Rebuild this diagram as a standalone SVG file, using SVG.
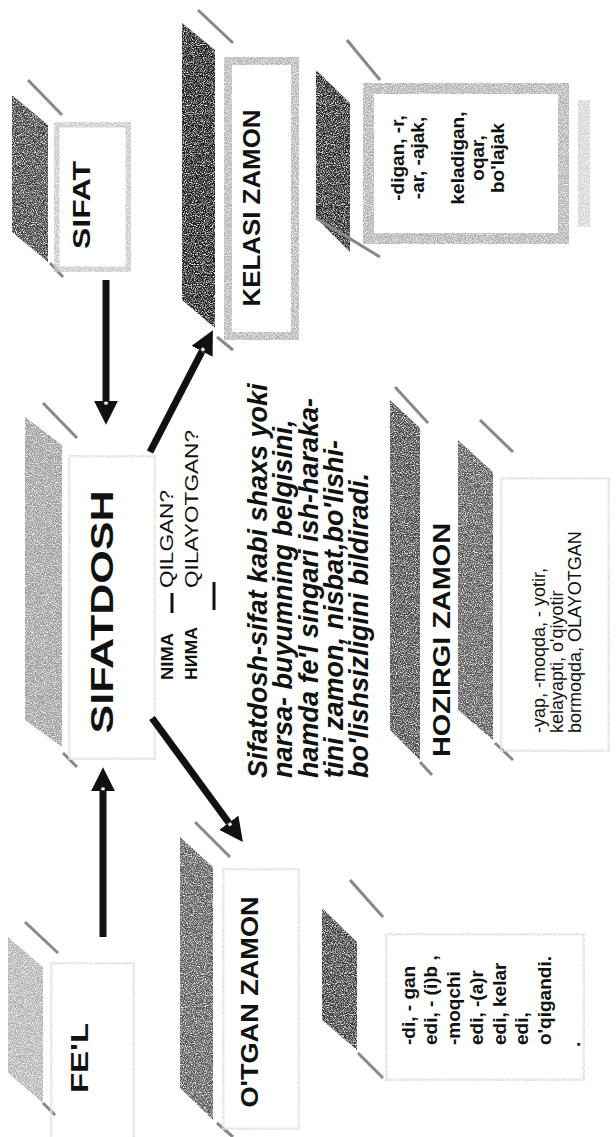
<svg xmlns="http://www.w3.org/2000/svg" width="616" height="1137" viewBox="0 0 616 1137">
<defs>
<filter id="grain" x="0" y="0" width="1" height="1">
<feTurbulence type="fractalNoise" baseFrequency="0.9" numOctaves="2" seed="7" result="n"/>
<feColorMatrix in="n" type="matrix" values="0 0 0 0 0 0 0 0 0 0 0 0 0 0 0 2.6 0 0 0 -0.55" result="m"/>
<feComposite in="SourceGraphic" in2="m" operator="in"/>
</filter>
<marker id="ah" viewBox="0 0 10 10" refX="0" refY="5" markerWidth="3.4" markerHeight="3.4" orient="auto" markerUnits="strokeWidth">
<path d="M0,0 L10,5 L0,10 z" fill="#111"/>
<rect x="0.3" y="4.3" width="1.2" height="1.4" fill="#fff"/>
</marker>
</defs>
<style>
.t{font-family:"Liberation Sans",Arial,sans-serif;font-weight:bold;fill:#111}
.title{font-size:23px}
.it{font-style:italic;font-size:27px}
.c{font-size:19px}
.r{font-weight:normal}
.side{filter:url(#grain)}
.bev{fill:none;stroke:#888;stroke-width:3}
.frame{fill:none;filter:url(#grain)}
.faint{fill:none;stroke:#e3e3e3;stroke-width:5;filter:url(#grain)}
.conn line{stroke:#111;stroke-width:7;marker-end:url(#ah)}
</style>
<rect width="616" height="1137" fill="#fff"/>

<g id="n-sifat">
<line class="bev" x1="28" y1="80" x2="62" y2="115"/>
<polygon class="side" points="12,95 48,125 48,262 12,232" fill="#3a3a3a"/>
<line class="bev" x1="50" y1="263" x2="63" y2="277" stroke="#555"/>
<rect class="frame" x="54" y="122" width="77" height="150" stroke="#c8c8c8" stroke-width="11"/>
<text class="t" font-size="24" transform="translate(90,205) rotate(-90)" text-anchor="middle" textLength="88" lengthAdjust="spacingAndGlyphs">SIFAT</text>
</g>

<g id="n-kelasi">
<line class="bev" x1="198" y1="10" x2="233" y2="43"/>
<polygon class="side" points="182,23 215,50 215,328 182,300" fill="#151515"/>
<line class="bev" x1="217" y1="337" x2="233" y2="350" stroke="#555"/>
<rect class="frame" x="224" y="57" width="75" height="283" stroke="#b4b4b4" stroke-width="16"/>
<text class="t title" transform="translate(260,208) rotate(-90)" text-anchor="middle" textLength="197" lengthAdjust="spacingAndGlyphs">KELASI ZAMON</text>
</g>

<g id="n-kelasi-content">
<line class="bev" x1="347" y1="40" x2="380" y2="80" stroke="#222" stroke-width="4"/>
<polygon class="side" points="316,70 350,103 350,252 316,218" fill="#222"/>
<rect class="frame" x="363" y="83" width="206" height="161" stroke="#b0b0b0" stroke-width="22"/>
<rect class="side" x="578" y="100" width="12" height="127" fill="#d4d4d4"/>
<line class="bev" x1="316" y1="218" x2="380" y2="257" stroke="#222" stroke-width="5"/>
<g class="t c" text-anchor="middle">
<text transform="translate(404,158) rotate(-90)">-digan, -r,</text>
<text transform="translate(424,158) rotate(-90)">-ar, -ajak,</text>
<text transform="translate(464,158) rotate(-90)">keladigan,</text>
<text transform="translate(484,158) rotate(-90)">oqar,</text>
<text transform="translate(504,158) rotate(-90)">bo'lajak</text>
</g>
</g>

<g id="n-sifatdosh">
<line class="bev" x1="43" y1="403" x2="77" y2="438" stroke="#aaa" stroke-width="2"/>
<polygon class="side" points="25,417 62,445 62,747 25,720" fill="#9a9a9a"/>
<line class="bev" x1="63" y1="753" x2="77" y2="767" stroke="#bbb" stroke-width="2"/>
<rect class="faint" x="68" y="455" width="88" height="305"/>
<text class="t" font-size="32" transform="translate(113,612) rotate(-90)" text-anchor="middle" textLength="243" lengthAdjust="spacingAndGlyphs">SIFATDOSH</text>
</g>

<g id="n-questions">
<text class="t" font-size="17" transform="translate(173,680) rotate(-90)" textLength="47" lengthAdjust="spacingAndGlyphs">NIMA</text>
<text class="t" font-size="17" transform="translate(197,680) rotate(-90)" textLength="53" lengthAdjust="spacingAndGlyphs">НИМА</text>
<text class="t r" font-size="18" transform="translate(173,588) rotate(-90)" textLength="98" lengthAdjust="spacingAndGlyphs">QILGAN?</text>
<text class="t r" font-size="18" transform="translate(198,588) rotate(-90)" textLength="158" lengthAdjust="spacingAndGlyphs">QILAYOTGAN?</text>
<line x1="172" y1="593" x2="172" y2="613" stroke="#111" stroke-width="3"/>
<line x1="214" y1="582" x2="214" y2="610" stroke="#111" stroke-width="3"/>
</g>

<g id="n-definition" class="t it">
<text transform="translate(267,778) rotate(-90)">Sifatdosh-sifat kabi shaxs yoki</text>
<text transform="translate(292,778) rotate(-90)">narsa- buyumning belgisini,</text>
<text transform="translate(318,778) rotate(-90)">hamda fe'l singari ish-haraka-</text>
<text transform="translate(343,778) rotate(-90)">tini zamon,  nisbat,bo'lishi-</text>
<text transform="translate(368,778) rotate(-90)">bo'lishsizligini bildiradi.</text>
</g>

<g id="n-hozirgi">
<line class="bev" x1="395" y1="387" x2="428" y2="423" stroke="#777"/>
<polygon class="side" points="390,400 420,428 420,760 390,730" fill="#444"/>
<line class="bev" x1="420" y1="762" x2="432" y2="775" stroke="#999" stroke-width="2"/>
<text class="t title" transform="translate(450,640) rotate(-90)" text-anchor="middle" textLength="234" lengthAdjust="spacingAndGlyphs">HOZIRGI ZAMON</text>
</g>

<g id="n-hozirgi-content">
<line class="bev" x1="480" y1="420" x2="513" y2="452" stroke="#888"/>
<polygon class="side" points="458,440 493,472 493,740 458,710" fill="#555"/>
<line class="bev" x1="495" y1="743" x2="513" y2="760" stroke="#777"/>
<rect class="faint" x="500" y="477" width="110" height="275"/>
<g class="t r" font-size="18">
<text transform="translate(545,733) rotate(-90)">-yap, -moqda, - yotir,</text>
<text transform="translate(563,733) rotate(-90)">kelayapti, o'qiyotir</text>
<text transform="translate(581,733) rotate(-90)">bormoqda, OLAYOTGAN</text>
</g>
</g>

<g id="n-fel">
<line class="bev" x1="25" y1="922" x2="58" y2="953" stroke="#aaa" stroke-width="2"/>
<polygon class="side" points="8,937 43,967 43,1103 8,1073" fill="#b0b0b0"/>
<line class="bev" x1="43" y1="1103" x2="55" y2="1115" stroke="#bbb" stroke-width="2"/>
<rect class="faint" x="50" y="962" width="85" height="190"/>
<text class="t title" transform="translate(88,1058) rotate(-90)" text-anchor="middle" textLength="70" lengthAdjust="spacingAndGlyphs">FE'L</text>
</g>

<g id="n-otgan">
<line class="bev" x1="195" y1="822" x2="230" y2="857" stroke="#999"/>
<polygon class="side" points="180,837 213,867 213,1120 180,1088" fill="#555"/>
<line class="bev" x1="217" y1="1123" x2="233" y2="1137" stroke="#777"/>
<rect class="faint" x="222" y="868" width="78" height="262"/>
<text class="t title" transform="translate(258,1002) rotate(-90)" text-anchor="middle" textLength="211" lengthAdjust="spacingAndGlyphs">O'TGAN ZAMON</text>
</g>

<g id="n-otgan-content">
<line class="bev" x1="350" y1="880" x2="383" y2="917" stroke="#888"/>
<polygon class="side" points="322,908 357,942 357,1050 322,1020" fill="#383838"/>
<line class="bev" x1="358" y1="1053" x2="383" y2="1078" stroke="#333"/>
<rect class="faint" x="385" y="933" width="200" height="148"/>
<g class="t c">
<text transform="translate(415,1045) rotate(-90)">-di, - gan</text>
<text transform="translate(437,1045) rotate(-90)">edi, - (i)b ,</text>
<text transform="translate(460,1045) rotate(-90)">-moqchi</text>
<text transform="translate(483,1045) rotate(-90)">edi, -(a)r</text>
<text transform="translate(506,1045) rotate(-90)">edi, kelar</text>
<text transform="translate(528,1045) rotate(-90)">edi,</text>
<text transform="translate(551,1045) rotate(-90)">o'qigandi.</text>
<text transform="translate(580,1047) rotate(-90)">.</text>
</g>
</g>

<g id="connectors" class="conn">
<line x1="106" y1="280" x2="106" y2="401"/>
<line x1="103" y1="937" x2="103" y2="791"/>
<line x1="150" y1="452" x2="202" y2="351.3"/>
<line x1="152" y1="718" x2="228.8" y2="822.7"/>
</g>
</svg>
